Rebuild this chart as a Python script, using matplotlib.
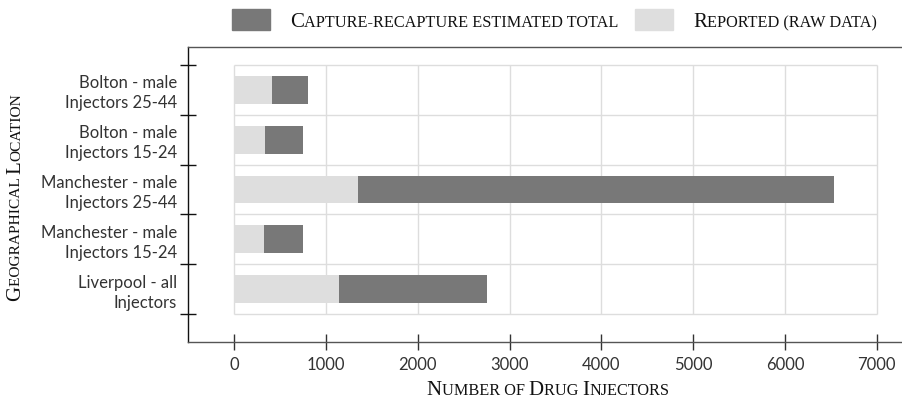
import numpy as np
import matplotlib
matplotlib.use("Agg")
import matplotlib.pyplot as plt

# data, bottom to top
locations = ["Liverpool - all\nInjectors",
             "Manchester - male\nInjectors 15-24",
             "Manchester - male\nInjectors 25-44",
             "Bolton - male\nInjectors 15-24",
             "Bolton - male\nInjectors 25-44"]
reported = [1140, 325, 1350, 335, 410]
estimated_total = [2750, 750, 6535, 750, 805]
x_ticks = [0, 1000, 2000, 3000, 4000, 5000, 6000, 7000]

W, H = 902, 403
DARK = "#787878"
LIGHT = "#dedede"
GRID = "#dddddd"
SANS = "Lato"
SERIF = "Liberation Serif"
BIG, SMALL = 15, 11.7

fig = plt.figure(figsize=(W / 100, H / 100), dpi=100)
ax = fig.add_axes([188 / W, 1 - 342 / H, (902 - 188) / W, (342 - 47) / H])

y = np.arange(len(locations))
ax.barh(y, estimated_total, height=0.56, color=DARK, zorder=3)
ax.barh(y, reported, height=0.56, color=LIGHT, zorder=4)

# grid only inside the band area
bounds = np.arange(len(locations) + 1) - 0.5
ax.vlines(x_ticks, bounds[0], bounds[-1], color=GRID, lw=1, zorder=1)
ax.hlines(bounds, x_ticks[0], x_ticks[-1], color=GRID, lw=1, zorder=1)

ax.set_xlim(-505, 7276)
ax.set_ylim(-1.06, 4.86)

ax.set_xticks(x_ticks)
ax.set_xticklabels([str(v) for v in x_ticks], family=SANS, fontsize=12, color="#333333")
ax.tick_params(axis="x", direction="inout", length=12, width=1, color="#333333", pad=5)

ax.set_yticks(bounds)
ax.set_yticklabels([])
ax.set_yticks(y, minor=True)
ax.set_yticklabels(locations, minor=True, family=SANS, fontsize=12, color="#333333",
                   linespacing=1.3)
ax.tick_params(axis="y", which="major", direction="inout", length=12, width=1, color="#111111")
ax.tick_params(axis="y", which="minor", length=0, pad=8)

ax.spines["right"].set_visible(False)
ax.spines["left"].set_color("#111111")
ax.spines["bottom"].set_color("#555555")
ax.spines["top"].set_color("#555555")
for s in ax.spines.values():
    s.set_linewidth(1)

fig.canvas.draw()
renderer = fig.canvas.get_renderer()


def text_width(s, size):
    t1 = fig.text(0, 0, s + "|", fontsize=size, family=SERIF)
    t2 = fig.text(0, 0, "|", fontsize=size, family=SERIF)
    w = t1.get_window_extent(renderer).width - t2.get_window_extent(renderer).width
    t1.remove()
    t2.remove()
    return w


def smallcaps(runs, px, py, rotation=0, align="left", small_scale=1.0):
    # px, py in pixels from bottom-left; py is the baseline
    runs = [(s, sz if sz == BIG else sz * small_scale) for s, sz in runs]
    widths = [text_width(s, sz) for s, sz in runs]
    total = sum(widths)
    start = 0 if align == "left" else -total / 2
    d = start
    for (s, sz), w in zip(runs, widths):
        if rotation == 0:
            xx, yy = px + d, py
        else:
            xx, yy = px, py + d
        fig.text(xx / W, yy / H, s, fontsize=sz, family=SERIF, color="#111111",
                 rotation=rotation, rotation_mode="anchor", ha="left", va="baseline")
        d += w


# legend
fig.patches.append(plt.Rectangle((232 / W, 1 - 30 / H), 38 / W, 21 / H,
                                 transform=fig.transFigure, color=DARK))
fig.patches.append(plt.Rectangle((635 / W, 1 - 30 / H), 38 / W, 21 / H,
                                 transform=fig.transFigure, color=LIGHT))
smallcaps([("C", BIG), ("APTURE-RECAPTURE ESTIMATED TOTAL", SMALL)], 290, H - 27)
smallcaps([("R", BIG), ("EPORTED (RAW DATA)", SMALL)], 693, H - 27)

# axis titles
smallcaps([("N", BIG), ("UMBER OF ", SMALL), ("D", BIG), ("RUG ", SMALL),
           ("I", BIG), ("NJECTORS", SMALL)], 548, H - 395, align="center")
smallcaps([("G", BIG), ("EOGRAPHICAL ", SMALL), ("L", BIG), ("OCATION", SMALL)],
          20, H - 197, rotation=90, align="center", small_scale=0.95)

fig.savefig("out.png", dpi=100)
